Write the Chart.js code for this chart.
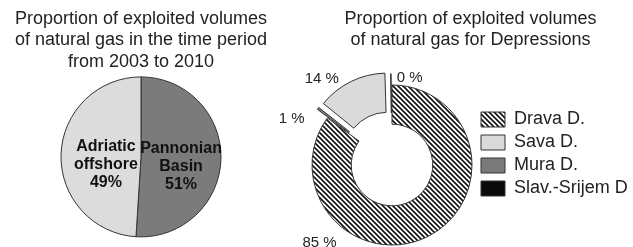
<!DOCTYPE html>
<html>
<head>
<meta charset="utf-8">
<script src="https://cdn.jsdelivr.net/npm/chart.js@4.4.1/dist/chart.umd.min.js"></script>
<style>
  html, body { margin: 0; padding: 0; background: #fff; overflow: hidden; }
  #wrap { position: relative; width: 633px; height: 247px; }
  #pie-wrap { position: absolute; left: 0; top: 0; width: 282px; height: 247px; }
  #donut-wrap { position: absolute; left: 252px; top: 0; width: 381px; height: 247px; }
</style>
</head>
<body>
<div id="wrap">
  <div id="pie-wrap"><canvas id="pie-chart"></canvas></div>
  <div id="donut-wrap"><canvas id="donut-chart"></canvas></div>
</div>
<script>
// --- Data ---
const basinLabels = ['Pannonian Basin', 'Adriatic offshore'];
const basinValues = [51, 49];

// clockwise from the top, as drawn
const depressionLabels = ['Drava D.', 'Mura D.', 'Sava D.', 'Slav.-Srijem D'];
const depressionValues = [85, 0.8, 13.8, 0.4];
const legendOrder = [0, 2, 1, 3]; // Drava, Sava, Mura, Slav.-Srijem

const FONT = 'Arial, "Liberation Sans", sans-serif';

// --- Hatch pattern for Drava ---
function makeHatch() {
    const size = 5;
    const c = document.createElement('canvas');
    c.width = size;
    c.height = size;
    const g = c.getContext('2d');
    g.fillStyle = '#fff';
    g.fillRect(0, 0, size, size);
    g.strokeStyle = '#111';
    g.lineWidth = 1.6;
    g.beginPath();
    g.moveTo(-1, -1); g.lineTo(size + 1, size + 1);
    g.moveTo(-1, size - 1); g.lineTo(1, size + 1);
    g.moveTo(size - 1, -1); g.lineTo(size + 1, 1);
    g.stroke();
    return g.createPattern(c, 'repeat');
}
const hatch = makeHatch();

// --- Labels inside the left pie ---
const pieLabelsPlugin = {
    id: 'pieLabels',
    afterDatasetsDraw(chart) {
        const ctx = chart.ctx;
        const arcs = chart.getDatasetMeta(0).data;
        ctx.save();
        ctx.font = 'bold 16px ' + FONT;
        ctx.fillStyle = '#111';
        ctx.textAlign = 'center';
        ctx.textBaseline = 'middle';
        arcs.forEach((arc, i) => {
            const { x, y, startAngle, endAngle, outerRadius } = arc.getProps(['x', 'y', 'startAngle', 'endAngle', 'outerRadius']);
            const mid = (startAngle + endAngle) / 2;
            const cx = x + Math.cos(mid) * outerRadius * 0.47 + 2.5;
            const cy = y + Math.sin(mid) * outerRadius * 0.47 + 9;
            const lines = basinLabels[i].split(' ').concat([basinValues[i] + '%']);
            lines.forEach((t, k) => {
                ctx.fillText(t, cx, cy + (k - 1) * 18);
            });
        });
        ctx.restore();
    }
};

// --- Percent labels round the donut ---
const labelShift = [70.6, -12, -12.5, 12]; // degrees from the slice middle
const labelDist = [105, 111, 112, 90];
const donutLabelsPlugin = {
    id: 'donutLabels',
    afterDatasetsDraw(chart) {
        const ctx = chart.ctx;
        const arcs = chart.getDatasetMeta(0).data;
        ctx.save();
        ctx.font = '15px ' + FONT;
        ctx.fillStyle = '#222';
        ctx.textAlign = 'center';
        ctx.textBaseline = 'middle';
        arcs.forEach((arc, i) => {
            const { x, y, startAngle, endAngle } = arc.getProps(['x', 'y', 'startAngle', 'endAngle']);
            const a = (startAngle + endAngle) / 2 + labelShift[i] * Math.PI / 180;
            ctx.fillText(Math.round(depressionValues[i]) + ' %', x + Math.cos(a) * labelDist[i], y + Math.sin(a) * labelDist[i] + 1.5);
        });
        ctx.restore();
    }
};

const titleFont = { family: FONT, size: 18, weight: 'normal', lineHeight: 1.2 };

// --- Left pie ---
new Chart(document.getElementById('pie-chart'), {
    type: 'pie',
    data: {
        labels: basinLabels,
        datasets: [{
            data: basinValues,
            backgroundColor: ['#7b7b7b', '#dcdcdc'],
            borderColor: '#333',
            borderWidth: 1,
            radius: 80,
            clip: false
        }]
    },
    options: {
        responsive: true,
        maintainAspectRatio: false,
        animation: false,
        events: [],
        layout: { padding: { top: 0, bottom: 10, left: 0, right: 0 } },
        plugins: {
            legend: { display: false },
            tooltip: { enabled: false },
            title: {
                display: true,
                text: ['Proportion of exploited volumes', 'of natural gas in the time period', 'from 2003 to 2010'],
                color: '#222',
                font: titleFont,
                padding: { top: 8, bottom: 4 }
            }
        }
    },
    plugins: [pieLabelsPlugin]
});

// --- Right donut ---
new Chart(document.getElementById('donut-chart'), {
    type: 'doughnut',
    data: {
        labels: depressionLabels,
        datasets: [{
            data: depressionValues,
            backgroundColor: [hatch, '#7a7a7a', '#dadada', '#0a0a0a'],
            borderColor: '#333',
            borderWidth: 1,
            // Chart.js v4 moves a slice by offset / 4
            offset: [0, 27, 42, 23],
            radius: 80,
            cutout: '51%',
            clip: false
        }]
    },
    options: {
        responsive: true,
        maintainAspectRatio: false,
        animation: false,
        events: [],
        layout: { padding: { top: 0, bottom: 22.5, left: 56, right: 0 } },
        plugins: {
            tooltip: { enabled: false },
            title: {
                display: true,
                text: ['Proportion of exploited volumes', 'of natural gas for Depressions'],
                color: '#222',
                font: titleFont,
                padding: { top: 8, bottom: 54.3 }
            },
            legend: {
                position: 'right',
                align: 'start',
                fullSize: false,
                maxWidth: 157,
                labels: {
                    boxWidth: 24,
                    boxHeight: 15,
                    padding: 5,
                    color: '#222',
                    font: { family: FONT, size: 18 },
                    sort: (a, b) => legendOrder.indexOf(a.index) - legendOrder.indexOf(b.index)
                }
            }
        }
    },
    plugins: [donutLabelsPlugin]
});
</script>
</body>
</html>
